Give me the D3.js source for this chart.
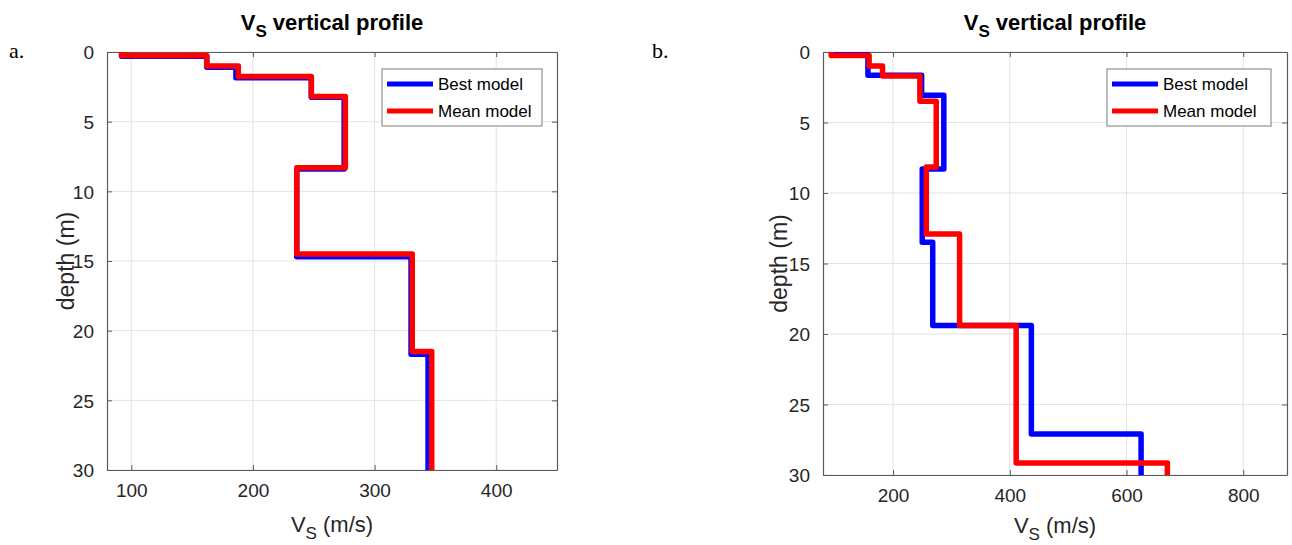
<!DOCTYPE html>
<html>
<head>
<meta charset="utf-8">
<script src="https://cdn.jsdelivr.net/npm/d3@7"></script>
<style>
  body { margin: 0; background: #fff; }
</style>
</head>
<body>
<svg id="chart" width="1292" height="545" font-family="Arial, 'Liberation Sans', sans-serif"></svg>
<script>
// layer velocities (m/s) and layer bottom depths (m)
var best_a_vs = [92, 162, 186, 248, 275, 236, 330, 344];
var best_a_z  = [0.3, 1.1, 1.85, 3.25, 8.4, 14.7, 21.7, 30];
var mean_a_vs = [92, 162, 188, 248, 276, 236, 331, 347];
var mean_a_z  = [0.25, 1.0, 1.75, 3.2, 8.3, 14.5, 21.5, 30];

var best_b_vs = [100, 157, 249, 287, 250, 268, 437, 625];
var best_b_z  = [0.2, 1.65, 3.07, 8.3, 13.5, 19.4, 27.1, 30];
var mean_b_vs = [94, 159, 182, 246, 274, 257, 314, 411, 670];
var mean_b_z  = [0.25, 1.0, 1.7, 3.5, 8.15, 12.9, 19.4, 29.15, 30];

var depth_ticks = [0, 5, 10, 15, 20, 25, 30];
var vs_ticks_a = [100, 200, 300, 400];
var vs_ticks_b = [200, 400, 600, 800];
var legend_labels = ["Best model", "Mean model"];

var svg = d3.select("#chart");

var axis_color = "#5a5a5a";
var text_color = "#262626";
var grid_color = "#e3e3e3";

// turn layer lists into stair-step points
function stairs(vs, z) {
  var pts = [];
  var top = 0;
  for (var i = 0; i < vs.length; i++) {
    pts.push([vs[i], top]);
    pts.push([vs[i], z[i]]);
    top = z[i];
  }
  return pts;
}

function drawPanel(p) {
  var g = svg.append("g");
  var x = d3.scaleLinear().domain(p.xdomain).range([p.left, p.right]);
  var y = d3.scaleLinear().domain([0, 30]).range([p.top, p.bottom]);

  // grid
  g.selectAll(".gx").data(p.xticks).enter().append("line")
    .attr("x1", d => x(d)).attr("x2", d => x(d))
    .attr("y1", p.top).attr("y2", p.bottom)
    .attr("stroke", grid_color).attr("stroke-width", 1);
  g.selectAll(".gy").data(depth_ticks).enter().append("line")
    .attr("y1", d => y(d)).attr("y2", d => y(d))
    .attr("x1", p.left).attr("x2", p.right)
    .attr("stroke", grid_color).attr("stroke-width", 1);

  // axes (ticks inward, box on)
  var xAxis = g.append("g").attr("transform", "translate(0," + p.bottom + ")")
    .call(d3.axisBottom(x).tickValues(p.xticks).tickSizeInner(-5).tickSizeOuter(0).tickPadding(14));
  var xTop = g.append("g").attr("transform", "translate(0," + p.top + ")")
    .call(d3.axisTop(x).tickValues(p.xticks).tickSizeInner(-5).tickSizeOuter(0).tickFormat(""));
  var yAxis = g.append("g").attr("transform", "translate(" + p.left + ",0)")
    .call(d3.axisLeft(y).tickValues(depth_ticks).tickSizeInner(-5).tickSizeOuter(0).tickPadding(13));
  var yRight = g.append("g").attr("transform", "translate(" + p.right + ",0)")
    .call(d3.axisRight(y).tickValues(depth_ticks).tickSizeInner(-5).tickSizeOuter(0).tickFormat(""));

  [xAxis, xTop, yAxis, yRight].forEach(function(a) {
    a.attr("font-family", null);
    a.select(".domain").attr("stroke", axis_color).attr("stroke-width", 1.2);
    a.selectAll(".tick line").attr("stroke", axis_color);
    a.selectAll(".tick text").attr("fill", text_color).attr("font-size", "19px");
  });
  yAxis.selectAll(".tick text").attr("dy", "0.36em");

  // model lines
  var line = d3.line().x(d => x(d[0])).y(d => y(d[1]));
  var models = [
    { pts: stairs(p.best_vs, p.best_z), color: "#0000ff" },
    { pts: stairs(p.mean_vs, p.mean_z), color: "#ff0000" }
  ];
  var clipId = "clip" + p.name;
  g.append("clipPath").attr("id", clipId).append("rect")
    .attr("x", p.left).attr("y", p.top - 3)
    .attr("width", p.right - p.left).attr("height", p.bottom - p.top + 3);
  g.selectAll(".model").data(models).enter().append("path")
    .attr("d", d => line(d.pts))
    .attr("fill", "none")
    .attr("stroke", d => d.color)
    .attr("stroke-width", 5.5)
    .attr("stroke-linejoin", "round")
    .attr("clip-path", "url(#" + clipId + ")");

  // title
  var t = g.append("text").attr("x", (p.left + p.right) / 2).attr("y", 30)
    .attr("text-anchor", "middle").attr("font-size", "22px").attr("font-weight", "bold")
    .attr("fill", "#000");
  t.append("tspan").text("V");
  t.append("tspan").attr("font-size", "17px").attr("dy", 7).text("S");
  t.append("tspan").attr("dy", -7).text(" vertical profile");

  // x label
  var xl = g.append("text").attr("x", (p.left + p.right) / 2).attr("y", p.xlabelY)
    .attr("text-anchor", "middle").attr("font-size", "22px").attr("fill", text_color);
  xl.append("tspan").text("V");
  xl.append("tspan").attr("font-size", "17px").attr("dy", 7).text("S");
  xl.append("tspan").attr("dy", -7).text(" (m/s)");

  // y label
  g.append("text")
    .attr("transform", "translate(" + p.ylabelX + "," + (p.top + p.bottom) / 2 + ") rotate(-90)")
    .attr("text-anchor", "middle").attr("font-size", "23px").attr("fill", text_color)
    .text("depth (m)");

  // panel letter
  g.append("text").attr("x", p.letterX).attr("y", 58)
    .attr("font-family", "'Liberation Serif', 'Times New Roman', serif")
    .attr("font-size", "22px").attr("fill", "#000").text(p.name + ".");

  // legend
  var lg = g.append("g").attr("transform", "translate(" + p.legX + "," + p.legY + ")");
  lg.append("rect").attr("width", p.legW).attr("height", 57)
    .attr("fill", "#fff").attr("stroke", "#7a7a7a").attr("stroke-width", 1);
  var items = lg.selectAll(".item").data(legend_labels).enter().append("g")
    .attr("transform", (d, i) => "translate(0," + (15 + i * 27) + ")");
  items.append("line").attr("x1", 5).attr("x2", 51).attr("y1", 0).attr("y2", 0)
    .attr("stroke", (d, i) => models[i].color).attr("stroke-width", 5);
  items.append("text").attr("x", 56).attr("y", 0).attr("dy", "0.36em")
    .attr("font-size", "17px").attr("fill", "#000").text(d => d);
}

drawPanel({
  name: "a", left: 107, right: 557, top: 52, bottom: 470,
  xdomain: [80, 450], xticks: vs_ticks_a,
  best_vs: best_a_vs, best_z: best_a_z, mean_vs: mean_a_vs, mean_z: mean_a_z,
  xlabelY: 532, ylabelX: 74, letterX: 9,
  legX: 382, legY: 69, legW: 160
});

drawPanel({
  name: "b", left: 823, right: 1287, top: 52, bottom: 475,
  xdomain: [80, 875], xticks: vs_ticks_b,
  best_vs: best_b_vs, best_z: best_b_z, mean_vs: mean_b_vs, mean_z: mean_b_z,
  xlabelY: 533, ylabelX: 787, letterX: 652,
  legX: 1107, legY: 69, legW: 164
});
</script>
</body>
</html>
